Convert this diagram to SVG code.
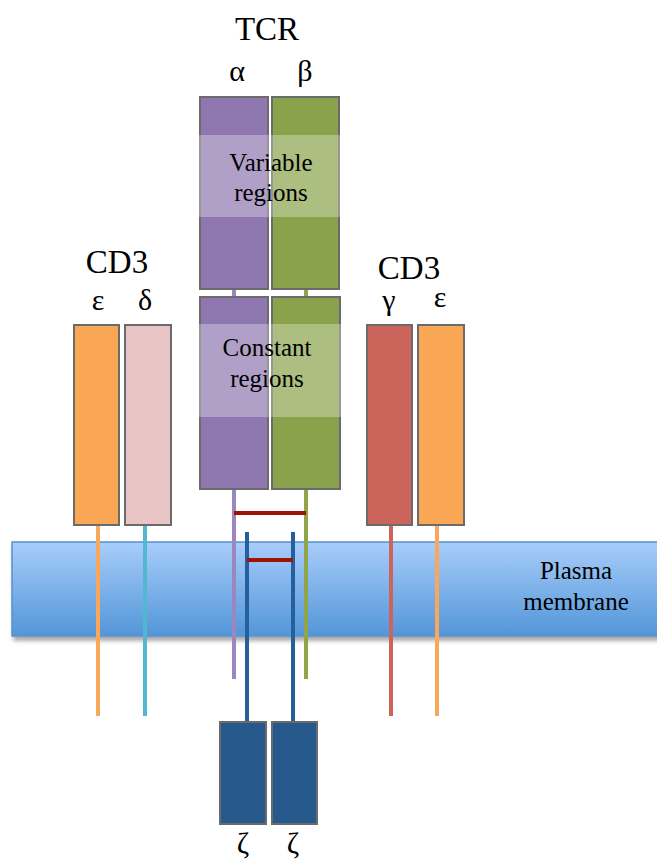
<svg xmlns="http://www.w3.org/2000/svg" width="657" height="868" viewBox="0 0 657 868">
<defs>
<linearGradient id="memGrad" x1="0" y1="0" x2="0" y2="1">
<stop offset="0" stop-color="#a8cdfa"/>
<stop offset="1" stop-color="#5396d9"/>
</linearGradient>
<filter id="shadow" x="-5%" y="-20%" width="110%" height="150%">
<feDropShadow dx="2" dy="4" stdDeviation="2" flood-color="#000" flood-opacity="0.35"/>
</filter>
</defs>
<style>
.box{stroke:#6b6b6b;stroke-width:2}
.lbl{fill:#000;text-anchor:middle;font-family:"Liberation Serif","Times New Roman",Tinos,"Nimbus Roman","FreeSerif","DejaVu Serif",serif}
.big{font-size:33px}
.greek{font-size:30px}
.mid{font-size:25px}
.overlay{fill:#fff;fill-opacity:0.3}
.ln{stroke-width:4;fill:none}
.bar{stroke:#a11206;stroke-width:4}
</style>
<rect width="657" height="868" fill="#fff"/>
<g id="membrane">
<rect x="12" y="542" width="650" height="94" fill="url(#memGrad)" stroke="#5b8fcc" stroke-width="1.5" filter="url(#shadow)"/>
<text class="lbl mid" x="576" y="579">Plasma</text>
<text class="lbl mid" x="576" y="610">membrane</text>
</g>

<g id="connectors">
<line class="ln" x1="98" y1="525" x2="98" y2="716" stroke="#f9a75a"/>
<line class="ln" x1="145" y1="525" x2="145" y2="716" stroke="#52b8cf"/>
<line class="ln" x1="234" y1="287" x2="234" y2="299" stroke="#9b87c0"/>
<line class="ln" x1="306" y1="287" x2="306" y2="299" stroke="#8fa548"/>
<line class="ln" x1="234" y1="488" x2="234" y2="679" stroke="#9b87c0"/>
<line class="ln" x1="306" y1="488" x2="306" y2="679" stroke="#8fa548"/>
<line class="ln" x1="247" y1="532" x2="247" y2="723" stroke="#24609d"/>
<line class="ln" x1="293" y1="532" x2="293" y2="723" stroke="#24609d"/>
<line class="ln" x1="391" y1="525" x2="391" y2="716" stroke="#cc645b"/>
<line class="ln" x1="437" y1="525" x2="437" y2="716" stroke="#f9a75a"/>
<line class="bar" x1="234" y1="513" x2="306" y2="513"/>
<line class="bar" x1="247" y1="560" x2="293" y2="560"/>
</g>

<g id="tcr">
<text class="lbl big" x="267" y="40">TCR</text>
<text class="lbl greek" x="237" y="81">α</text>
<text class="lbl greek" x="305" y="81">β</text>
<rect class="box" x="200" y="97" width="68" height="192" fill="#8f78b0"/>
<rect class="box" x="272" y="97" width="67" height="192" fill="#8aa24b"/>
<rect class="box" x="200" y="297" width="68" height="192" fill="#8f78b0"/>
<rect class="box" x="272" y="297" width="68" height="192" fill="#8aa24b"/>
<rect class="overlay" x="199" y="135" width="141" height="82"/>
<rect class="overlay" x="199" y="324" width="142" height="93"/>
<text class="lbl mid" x="271" y="171">Variable</text>
<text class="lbl mid" x="271" y="201">regions</text>
<text class="lbl mid" x="267" y="356">Constant</text>
<text class="lbl mid" x="267" y="387">regions</text>
</g>

<g id="cd3-left">
<text class="lbl big" x="117" y="273">CD3</text>
<text class="lbl greek" x="98" y="310">ε</text>
<text class="lbl greek" x="145" y="310">δ</text>
<rect class="box" x="74" y="325" width="45" height="200" fill="#f9a655"/>
<rect class="box" x="125" y="325" width="46" height="200" fill="#e8c4c4"/>
</g>

<g id="cd3-right">
<text class="lbl big" x="409" y="279">CD3</text>
<text class="lbl greek" x="389" y="310">γ</text>
<text class="lbl greek" x="440" y="307">ε</text>
<rect class="box" x="367" y="325" width="45" height="200" fill="#cb645b"/>
<rect class="box" x="418" y="325" width="46" height="200" fill="#f9a655"/>
</g>

<g id="zeta">
<rect class="box" x="220" y="722" width="46" height="102" fill="#275a8c"/>
<rect class="box" x="272" y="722" width="45" height="102" fill="#275a8c"/>
<text class="lbl greek" x="243" y="853">ζ</text>
<text class="lbl greek" x="293" y="853">ζ</text>
</g>
</svg>
